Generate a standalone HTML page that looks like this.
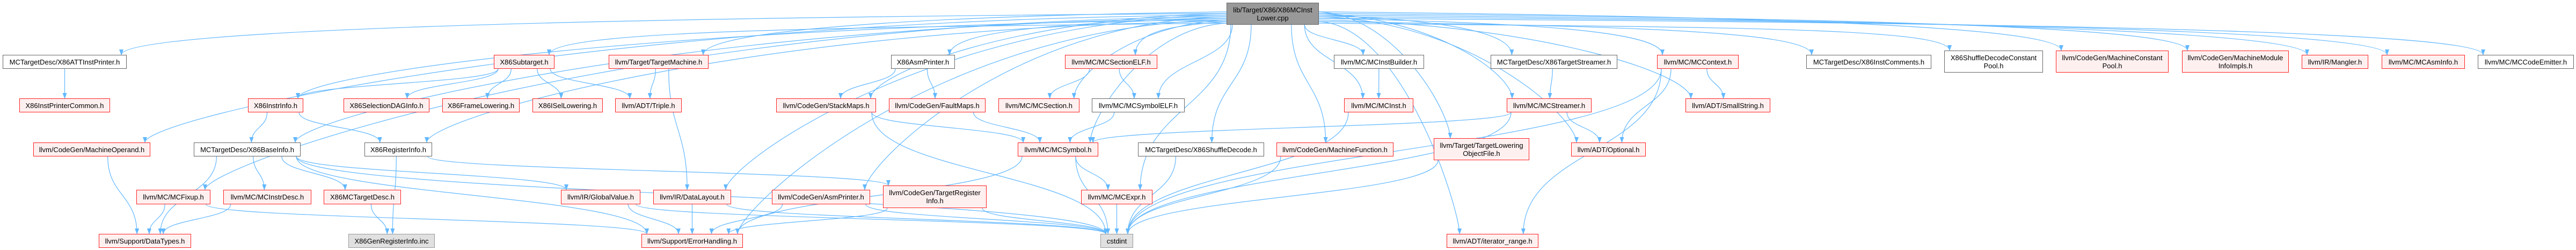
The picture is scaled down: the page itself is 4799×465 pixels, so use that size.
<!DOCTYPE html>
<html><head><meta charset="utf-8">
<style>
html,body{margin:0;padding:0;background:#fff;}
#c{position:relative;width:4799px;height:465px;overflow:hidden;}
.n{position:absolute;box-sizing:border-box;display:flex;align-items:center;justify-content:center;text-align:center;font-family:"Liberation Sans",sans-serif;font-size:13px;line-height:15px;color:#000;white-space:nowrap;border:1.5px solid #666;background:#fff;}
.r{border-color:#ff2020;background:#fff0f0;}
.g{border-color:#999;background:#e0e0e0;}
.root{border-color:#666;background:#999;}
svg{position:absolute;left:0;top:0;}
</style></head><body><div id="c">
<svg id="s" width="4799" height="465" xmlns="http://www.w3.org/2000/svg">
<defs><marker id="a" markerWidth="11" markerHeight="8" refX="10" refY="4" orient="auto" markerUnits="userSpaceOnUse"><path d="M0,0 L11,4 L0,8 z" fill="#63b8ff"/></marker></defs>
<g id="e" fill="none" stroke="#63b8ff" stroke-width="1.2"></g>
</svg>
<div class="n root" style="left:2285px;top:5px;width:172px;height:41px;">lib/Target/X86/X86MCInst<br>Lower.cpp</div>
<div class="n" style="left:5px;top:102px;width:231px;height:26px;">MCTargetDesc/X86ATTInstPrinter.h</div>
<div class="n r" style="left:920px;top:102px;width:113px;height:26px;">X86Subtarget.h</div>
<div class="n r" style="left:1134px;top:102px;width:186px;height:26px;">llvm/Target/TargetMachine.h</div>
<div class="n" style="left:1660px;top:102px;width:119px;height:26px;">X86AsmPrinter.h</div>
<div class="n r" style="left:1984px;top:102px;width:172px;height:26px;">llvm/MC/MCSectionELF.h</div>
<div class="n" style="left:2485px;top:102px;width:168px;height:26px;">llvm/MC/MCInstBuilder.h</div>
<div class="n" style="left:2777px;top:102px;width:236px;height:26px;">MCTargetDesc/X86TargetStreamer.h</div>
<div class="n r" style="left:3087px;top:102px;width:152px;height:26px;">llvm/MC/MCContext.h</div>
<div class="n" style="left:3365px;top:102px;width:233px;height:26px;">MCTargetDesc/X86InstComments.h</div>
<div class="n" style="left:3622px;top:94px;width:184px;height:41px;">X86ShuffleDecodeConstant<br>Pool.h</div>
<div class="n r" style="left:3830px;top:94px;width:210px;height:41px;">llvm/CodeGen/MachineConstant<br>Pool.h</div>
<div class="n r" style="left:4065px;top:94px;width:199px;height:41px;">llvm/CodeGen/MachineModule<br>InfoImpls.h</div>
<div class="n r" style="left:4288px;top:102px;width:124px;height:26px;">llvm/IR/Mangler.h</div>
<div class="n r" style="left:4437px;top:102px;width:155px;height:26px;">llvm/MC/MCAsmInfo.h</div>
<div class="n" style="left:4616px;top:102px;width:179px;height:26px;">llvm/MC/MCCodeEmitter.h</div>
<div class="n r" style="left:36px;top:183px;width:169px;height:26px;">X86InstPrinterCommon.h</div>
<div class="n r" style="left:462px;top:183px;width:103px;height:26px;">X86InstrInfo.h</div>
<div class="n r" style="left:640px;top:183px;width:160px;height:26px;">X86SelectionDAGInfo.h</div>
<div class="n r" style="left:824px;top:183px;width:144px;height:26px;">X86FrameLowering.h</div>
<div class="n r" style="left:992px;top:183px;width:131px;height:26px;">X86ISelLowering.h</div>
<div class="n r" style="left:1146px;top:183px;width:124px;height:26px;">llvm/ADT/Triple.h</div>
<div class="n r" style="left:1446px;top:183px;width:186px;height:26px;">llvm/CodeGen/StackMaps.h</div>
<div class="n r" style="left:1656px;top:183px;width:180px;height:26px;">llvm/CodeGen/FaultMaps.h</div>
<div class="n r" style="left:1860px;top:183px;width:151px;height:26px;">llvm/MC/MCSection.h</div>
<div class="n" style="left:2034px;top:183px;width:173px;height:26px;">llvm/MC/MCSymbolELF.h</div>
<div class="n r" style="left:2504px;top:183px;width:129px;height:26px;">llvm/MC/MCInst.h</div>
<div class="n r" style="left:2807px;top:183px;width:158px;height:26px;">llvm/MC/MCStreamer.h</div>
<div class="n r" style="left:3140px;top:183px;width:158px;height:26px;">llvm/ADT/SmallString.h</div>
<div class="n r" style="left:62px;top:265px;width:218px;height:26px;">llvm/CodeGen/MachineOperand.h</div>
<div class="n" style="left:361px;top:265px;width:199px;height:26px;">MCTargetDesc/X86BaseInfo.h</div>
<div class="n" style="left:679px;top:265px;width:126px;height:26px;">X86RegisterInfo.h</div>
<div class="n r" style="left:1896px;top:265px;width:150px;height:26px;">llvm/MC/MCSymbol.h</div>
<div class="n" style="left:2120px;top:265px;width:235px;height:26px;">MCTargetDesc/X86ShuffleDecode.h</div>
<div class="n r" style="left:2378px;top:265px;width:218px;height:26px;">llvm/CodeGen/MachineFunction.h</div>
<div class="n r" style="left:2671px;top:257px;width:178px;height:41px;">llvm/Target/TargetLowering<br>ObjectFile.h</div>
<div class="n r" style="left:2927px;top:265px;width:139px;height:26px;">llvm/ADT/Optional.h</div>
<div class="n r" style="left:254px;top:353px;width:138px;height:27px;">llvm/MC/MCFixup.h</div>
<div class="n r" style="left:416px;top:353px;width:164px;height:27px;">llvm/MC/MCInstrDesc.h</div>
<div class="n r" style="left:603px;top:353px;width:144px;height:27px;">X86MCTargetDesc.h</div>
<div class="n r" style="left:1045px;top:353px;width:148px;height:27px;">llvm/IR/GlobalValue.h</div>
<div class="n r" style="left:1217px;top:353px;width:145px;height:27px;">llvm/IR/DataLayout.h</div>
<div class="n r" style="left:1438px;top:353px;width:183px;height:27px;">llvm/CodeGen/AsmPrinter.h</div>
<div class="n r" style="left:1645px;top:345px;width:193px;height:42px;">llvm/CodeGen/TargetRegister<br>Info.h</div>
<div class="n r" style="left:2014px;top:353px;width:133px;height:27px;">llvm/MC/MCExpr.h</div>
<div class="n r" style="left:184px;top:435px;width:172px;height:26px;">llvm/Support/DataTypes.h</div>
<div class="n g" style="left:649px;top:435px;width:161px;height:26px;">X86GenRegisterInfo.inc</div>
<div class="n r" style="left:1195px;top:435px;width:189px;height:26px;">llvm/Support/ErrorHandling.h</div>
<div class="n g" style="left:2050px;top:435px;width:61px;height:26px;">cstdint</div>
<div class="n r" style="left:2695px;top:435px;width:171px;height:26px;">llvm/ADT/iterator_range.h</div>
</div>
<script>
var N={root:[2285,5,2457,46],att:[5,102,236,128],sub:[920,102,1033,128],tm:[1134,102,1320,128],asmp:[1660,102,1779,128],secelf:[1984,102,2156,128],instb:[2485,102,2653,128],tstr:[2777,102,3013,128],ctx:[3087,102,3239,128],icomm:[3365,102,3598,128],sdcp:[3622,94,3806,135],mcp:[3830,94,4040,135],mmi:[4065,94,4264,135],mang:[4288,102,4412,128],asminfo:[4437,102,4592,128],codeem:[4616,102,4795,128],
ipc:[36,183,205,209],instr:[462,183,565,209],sdag:[640,183,800,209],frame:[824,183,968,209],isel:[992,183,1123,209],triple:[1146,183,1270,209],stack:[1446,183,1632,209],fault:[1656,183,1836,209],sect:[1860,183,2011,209],symelf:[2034,183,2207,209],inst:[2504,183,2633,209],strm:[2807,183,2965,209],small:[3140,183,3298,209],
mo:[62,265,280,291],base:[361,265,560,291],reg:[679,265,805,291],sym:[1896,265,2046,291],shuf:[2120,265,2355,291],mf:[2378,265,2596,291],tlof:[2671,257,2849,298],opt:[2927,265,3066,291],
fix:[254,353,392,380],idesc:[416,353,580,380],mctd:[603,353,747,380],gv:[1045,353,1193,380],dl:[1217,353,1362,380],ap:[1438,353,1621,380],tri:[1645,345,1838,387],expr:[2014,353,2147,380],
dt:[184,435,356,461],gen:[649,435,810,461],err:[1195,435,1384,461],cs:[2050,435,2111,461],iter:[2695,435,2866,461]};
var E=[["root","att"],["root","mo"],["root","fix"],["root","base"],["root","instr"],["root","reg"],["root","sub"],["root","tm"],["root","stack"],["root","dl"],["root","ap"],["root","asmp"],["root","sect"],["root","secelf"],["root","symelf"],["root","sym"],["root","expr"],["root","shuf"],["root","mf"],["root","instb"],["root","inst"],["root","tlof"],["root","strm"],["root","tstr"],["root","opt"],["root","ctx"],["root","small"],["root","icomm"],["root","sdcp"],["root","mcp"],["root","mmi"],["root","mang"],["root","asminfo"],["root","codeem"],
["att","ipc"],["mo","dt"],["instr","base"],["instr","reg"],["base","dt"],["base","idesc"],["base","mctd"],["base","gv"],["base","err"],["base","cs"],["fix","dt"],["fix","err"],["idesc","dt"],["mctd","gen"],["reg","gen"],["reg","tri"],
["sub","instr"],["sub","sdag"],["sub","frame"],["sub","isel"],["sub","triple"],["tm","triple"],["tm","dl"],["gv","err"],["gv","cs"],["dl","err"],["dl","cs"],["ap","err"],["ap","cs"],["tri","err"],["tri","cs"],
["asmp","stack"],["asmp","fault"],["stack","sym"],["stack","cs"],["fault","sym"],["secelf","sect"],["secelf","symelf"],["symelf","sym"],["sym","expr"],["sym","cs"],["sym","err"],["expr","cs"],["shuf","cs"],["mf","cs"],["inst","cs"],["tstr","strm"],["strm","opt"],["strm","sym"],["strm","cs"],["instb","inst"],["tlof","cs"],["ctx","opt"],["ctx","small"],["ctx","cs"],["ctx","iter"],["root","err"],["root","iter"]];
var g=document.getElementById("e"),h="",k=0;
function cl(v,a,b){return Math.max(a,Math.min(b,v));}
E.forEach(function(p){var s=N[p[0]],t=N[p[1]];var sc=(s[0]+s[2])/2,tc=(t[0]+t[2])/2;
var tx=cl(tc+(sc-tc)*0.15,t[0]+10,t[2]-10),ty=t[1];
var d,sx,sy;
if(p[0]=="root"&&Math.abs(tc-sc)>300){
 k++;sx=tc<sc?s[0]:s[2];sy=22+(k%8)*3;
 d='M'+sx+','+sy+' C'+(sx+(tx-sx)*0.6)+','+(sy+8)+' '+tx+','+(ty-45)+' '+tx+','+ty;
}else{
 sx=cl(sc+(tc-sc)*0.3,s[0]+8,s[2]-8);sy=s[3];var dy=ty-sy;
 d='M'+sx+','+sy+' C'+sx+','+(sy+dy*0.5)+' '+tx+','+(ty-dy*0.5)+' '+tx+','+ty;
}
h+='<path marker-end="url(#a)" d="'+d+'"/>';});
g.innerHTML=h;
</script>
</body></html>
